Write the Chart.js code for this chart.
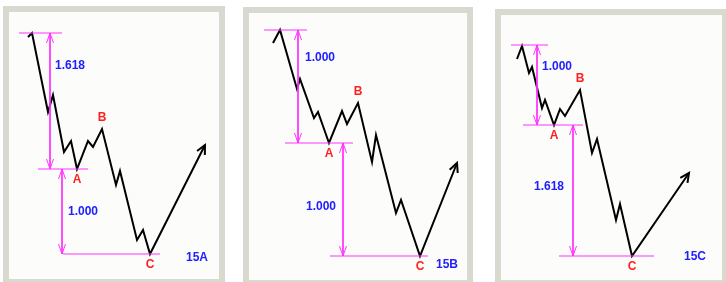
<!DOCTYPE html>
<html>
<head>
<meta charset="utf-8">
<script src="https://cdn.jsdelivr.net/npm/chart.js@4.4.1/dist/chart.umd.min.js"></script>
<style>
  body { margin: 0; background: #ffffff; width: 726px; height: 282px; overflow: hidden; position: relative; }
  .panel { position: absolute; border: 6px solid #d9d9d0; background: #fcfcfa; }
  .panel canvas { display: block; }
</style>
</head>
<body>
<div class="panel" style="left:3px;top:6px;width:210px;height:267px"><canvas id="chartA" width="210" height="267"></canvas></div>
<div class="panel" style="left:243px;top:7px;width:218px;height:267px"><canvas id="chartB" width="218" height="267"></canvas></div>
<div class="panel" style="left:495px;top:9px;width:221px;height:265px"><canvas id="chartC" width="221" height="265"></canvas></div>
<script>
// 15A  (wave A extended 1.618, wave C = 1.000)
const barsA   = [19, 23, 39, 44, 55, 62, 68, 79, 84, 93, 107, 111, 128, 134, 141, 196];
const pricesA = [242, 246, 167, 184, 127, 138, 110, 138, 132, 150, 94, 108, 39, 49, 25, 134];
const levelsA = [246, 110, 25];
const spansA  = [[10, 53], [29, 79], [54, 151]];
const measureBarsA = [41, 53];
const ratiosA = ['1.618', '1.000'];

// 15B  (A = C)
const barsB   = [24, 31, 48, 51, 65, 69, 80, 93, 98, 109, 123, 127, 147, 152, 171, 208];
const pricesB = [237, 250, 191, 201, 162, 168, 137, 169, 156, 177, 118, 145, 67, 80, 24, 117];
const levelsB = [250, 137, 24];
const spansB  = [[15, 58], [36, 104], [81, 179]];
const measureBarsB = [49, 94];
const ratiosB = ['1.000', '1.000'];

// 15C  (wave C extended 1.618)
const barsC   = [16, 21, 28, 31, 41, 44, 53, 59, 64, 79, 91, 96, 115, 119, 131, 188];
const pricesC = [221, 234, 207, 213, 172, 180, 155, 171, 164, 190, 127, 141, 60, 76, 24, 107];
const levelsC = [235, 155, 24];
const spansC  = [[10, 47], [22, 82], [58, 153]];
const measureBarsC = [36, 72];
const ratiosC = ['1.000', '1.618'];

const waveNames = ['A', 'B', 'C'];
const waveIdx = [6, 9, 14];

const MAGENTA = '#ff33ff';
const BLUE = '#2020ff';
const RED = '#ff2020';
const FONT = 'bold 12px "Liberation Sans", Arial, sans-serif';

const overlay = {
    id: 'overlay',
    afterDatasetsDraw(chart, args, o) {
        const ctx = chart.ctx;
        const xs = chart.scales.x, ys = chart.scales.y;
        ctx.save();

        // magenta double arrows on the measure lines
        ctx.strokeStyle = MAGENTA;
        ctx.lineWidth = 1;
        o.measureBars.forEach((b, i) => {
            const px = xs.getPixelForValue(b);
            const top = ys.getPixelForValue(o.levels[i]);
            const bot = ys.getPixelForValue(o.levels[i + 1]);
            ctx.beginPath();
            ctx.moveTo(px - 3.5, top + 10); ctx.lineTo(px, top); ctx.lineTo(px + 3.5, top + 10);
            ctx.moveTo(px - 3.5, bot - 10); ctx.lineTo(px, bot); ctx.lineTo(px + 3.5, bot - 10);
            ctx.stroke();
        });

        // arrow head at the end of the wave
        const n = o.bars.length;
        const x1 = xs.getPixelForValue(o.bars[n - 2]), y1 = ys.getPixelForValue(o.prices[n - 2]);
        const x2 = xs.getPixelForValue(o.bars[n - 1]), y2 = ys.getPixelForValue(o.prices[n - 1]);
        const ang = Math.atan2(y2 - y1, x2 - x1);
        ctx.strokeStyle = '#000';
        ctx.lineWidth = 2;
        ctx.beginPath();
        ctx.moveTo(x2 - 10 * Math.cos(ang - 0.45), y2 - 10 * Math.sin(ang - 0.45));
        ctx.lineTo(x2, y2);
        ctx.lineTo(x2 - 10 * Math.cos(ang + 0.45), y2 - 10 * Math.sin(ang + 0.45));
        ctx.stroke();

        ctx.font = FONT;
        ctx.textAlign = 'center';
        ctx.textBaseline = 'middle';

        // A B C
        ctx.fillStyle = RED;
        waveIdx.forEach((k, i) => {
            const px = xs.getPixelForValue(o.bars[k]);
            const py = ys.getPixelForValue(o.prices[k]);
            ctx.fillText(waveNames[i], px, py + (i === 1 ? -11 : 11));
        });

        // ratios and panel name
        ctx.fillStyle = BLUE;
        o.texts.forEach(t => {
            ctx.fillText(t.text, xs.getPixelForValue(t.x), ys.getPixelForValue(t.y));
        });
        ctx.restore();
    }
};

function makePanel(id, bars, prices, levels, spans, measureBars, texts) {
    const canvas = document.getElementById(id);
    const datasets = [];
    levels.forEach((p, i) => {
        datasets.push({ data: [{ x: spans[i][0], y: p }, { x: spans[i][1], y: p }],
            borderColor: MAGENTA, borderWidth: 1, clip: false });
    });
    measureBars.forEach((b, i) => {
        datasets.push({ data: [{ x: b, y: levels[i] }, { x: b, y: levels[i + 1] }],
            borderColor: MAGENTA, borderWidth: 1, clip: false });
    });
    datasets.push({ data: bars.map((b, i) => ({ x: b, y: prices[i] })),
        borderColor: '#000000', borderWidth: 2, clip: false });

    new Chart(canvas, {
        type: 'line',
        data: { datasets },
        options: {
            responsive: false,
            animation: false,
            layout: { padding: 0 },
            elements: { point: { radius: 0 }, line: { tension: 0 } },
            scales: {
                x: { type: 'linear', min: 0, max: canvas.width, display: false },
                y: { type: 'linear', min: 0, max: canvas.height, display: false }
            },
            plugins: {
                legend: { display: false },
                tooltip: { enabled: false },
                overlay: { bars, prices, levels, measureBars, texts }
            }
        },
        plugins: [overlay]
    });
}

makePanel('chartA', barsA, pricesA, levelsA, spansA, measureBarsA, [
    { text: ratiosA[0], x: 61, y: 213 },
    { text: ratiosA[1], x: 74, y: 67 },
    { text: '15A', x: 188, y: 21 }
]);
makePanel('chartB', barsB, pricesB, levelsB, spansB, measureBarsB, [
    { text: ratiosB[0], x: 71, y: 222 },
    { text: ratiosB[1], x: 72, y: 73 },
    { text: '15B', x: 198, y: 15 }
]);
makePanel('chartC', barsC, pricesC, levelsC, spansC, measureBarsC, [
    { text: ratiosC[0], x: 56, y: 213 },
    { text: ratiosC[1], x: 48, y: 93 },
    { text: '15C', x: 194, y: 23 }
]);
</script>
</body>
</html>
